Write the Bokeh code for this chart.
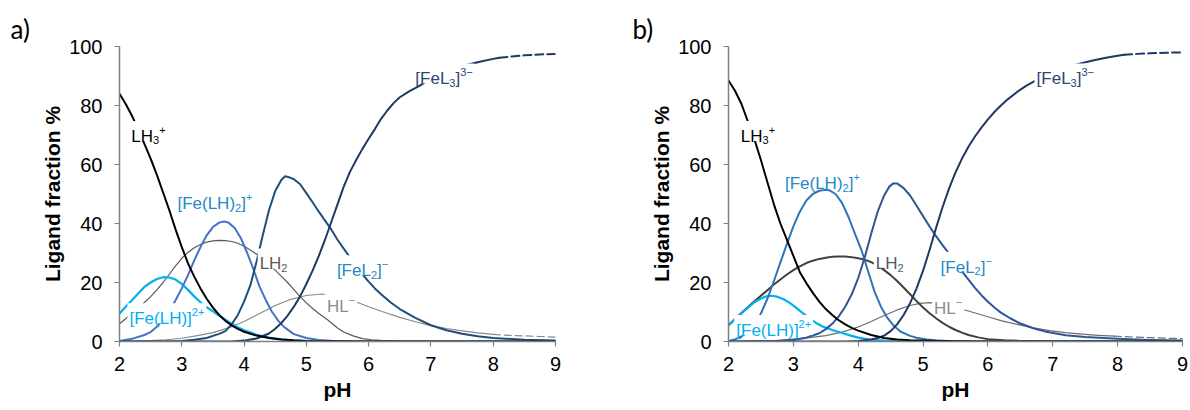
from bokeh.plotting import figure
from bokeh.layouts import row
from bokeh.models import Range1d, FixedTicker
from bokeh.core.properties import value
from bokeh.embed import file_html
from bokeh.resources import INLINE

# ---------------- panel a) data (pH, ligand fraction %) ----------------
a_ph_lh3 = [2.0, 2.1, 2.2, 2.3, 2.4, 2.5, 2.6, 2.7, 2.8, 2.9, 3.0, 3.1, 3.2, 3.3, 3.4, 3.5, 3.6, 3.7,
            3.8, 3.9, 4.0, 4.2, 4.4, 4.6, 4.8, 5.0, 5.5, 6.0, 9.0]
a_lh3 = [84, 80.5, 76.5, 72, 67, 62, 56.5, 50.5, 44.5, 38, 32, 26.5, 22, 18, 14.5, 11.5, 9, 7,
         5.5, 4.3, 3.3, 2.0, 1.2, 0.7, 0.4, 0.2, 0.05, 0, 0]

a_ph_felh = [2.0, 2.1, 2.2, 2.3, 2.4, 2.5, 2.6, 2.7, 2.8, 2.9, 3.0, 3.1, 3.2, 3.3, 3.4, 3.5, 3.6, 3.7,
             3.8, 3.9, 4.0, 4.2, 4.4, 4.6, 4.8, 5.0, 5.5, 9.0]
a_felh = [9.5, 11.8, 14, 16.3, 18.5, 20, 21.2, 21.8, 21.7, 21, 19.5, 17.5, 15.3, 13.3, 11.6, 10.2, 8.8, 7.4,
          6.0, 4.8, 3.8, 2.3, 1.3, 0.7, 0.3, 0.1, 0, 0]

a_ph_felh2 = [2.0, 2.2, 2.4, 2.5, 2.6, 2.7, 2.8, 2.9, 3.0, 3.1, 3.2, 3.3, 3.4, 3.5, 3.6, 3.68, 3.75, 3.85,
              3.95, 4.05, 4.15, 4.25, 4.35, 4.45, 4.55, 4.65, 4.8, 5.0, 5.2, 5.5, 6.0, 9.0]
a_felh2 = [0.2, 0.9, 2.2, 3.2, 5, 7.5, 10.5, 14, 18, 22.5, 27.5, 32, 36, 38.8, 40.3, 40.7, 40.3, 38.5,
           35, 30, 24.5, 18.5, 14, 10, 7, 4.8, 2.5, 1.2, 0.5, 0.1, 0, 0]

a_ph_lh2 = [2.0, 2.1, 2.2, 2.3, 2.4, 2.5, 2.6, 2.7, 2.8, 2.9, 3.0, 3.1, 3.2, 3.3, 3.4, 3.5, 3.6, 3.7,
            3.8, 3.9, 4.0, 4.1, 4.2, 4.3, 4.4, 4.5, 4.6, 4.7, 4.8, 4.9, 5.0, 5.1, 5.2, 5.35, 5.5, 5.6,
            5.75, 5.9, 6.05, 6.2, 6.6, 7.0, 9.0]
a_lh2 = [6, 7.7, 9.5, 11.3, 13.2, 15.2, 17.5, 20, 22.8, 25.6, 28.2, 30.2, 31.8, 32.9, 33.7, 34.1, 34.3, 34.2,
         33.9, 33.3, 32.3, 31, 29.6, 28, 26.2, 24.2, 22.1, 20, 17.6, 15.2, 13.1, 11.2, 9.5, 7.2, 4.6, 3.2,
         1.9, 1.0, 0.6, 0.4, 0.1, 0, 0]

a_ph_hl = [2.0, 2.5, 2.75, 3.0, 3.25, 3.5, 3.75, 4.0, 4.25, 4.5, 4.75, 5.0, 5.25, 5.5, 5.75, 6.0, 6.25,
           6.5, 6.75, 7.0, 7.25, 7.5, 7.75, 8.0]
a_hl = [0, 0.3, 0.6, 1.1, 2.0, 3.0, 4.6, 6.8, 9.5, 12.2, 14.3, 15.6, 16.1, 15.4, 13.8, 11.8, 9.9,
        8.2, 6.7, 5.4, 4.4, 3.6, 2.9, 2.4]
a_ph_hl_tail = [8.0, 8.25, 8.5, 8.75, 9.0]
a_hl_tail = [2.4, 2.1, 1.9, 1.7, 1.5]

a_ph_fel2 = [2.0, 2.8, 3.0, 3.2, 3.4, 3.5, 3.6, 3.7, 3.8, 3.9, 4.0, 4.1, 4.2, 4.3, 4.4, 4.5, 4.6, 4.66,
             4.72, 4.8, 4.9, 5.0, 5.1, 5.2, 5.3, 5.4, 5.5, 5.6, 5.7, 5.8, 5.9, 6.0, 6.1, 6.2, 6.35, 6.5,
             6.75, 7.0, 7.25, 7.5, 7.75, 8.0, 8.5, 9.0]
a_fel2 = [0, 0, 0.2, 0.6, 1.2, 1.9, 2.6, 3.5, 5.8, 9, 13.5, 19, 27, 36, 44.5, 51, 54.8, 56,
          55.7, 55, 53.3, 50.3, 47.2, 44, 41, 38, 34.5, 31.5, 28.5, 25.5, 22.8, 20.3, 18, 16, 13.3, 11,
          8, 5.5, 3.8, 2.6, 1.8, 1.2, 0.6, 0.3]

a_ph_fel3 = [2.0, 3.8, 4.0, 4.2, 4.4, 4.5, 4.6, 4.7, 4.8, 4.9, 5.0, 5.1, 5.2, 5.3, 5.4, 5.5, 5.6, 5.7,
             5.8, 5.9, 6.0, 6.1, 6.2, 6.3, 6.4, 6.5, 6.65, 6.8, 7.0, 7.2, 7.4, 7.6, 7.82, 8.0, 8.1]
a_fel3 = [0, 0, 0.3, 1, 2.7, 4.3, 6.3, 8.8, 11.8, 15.3, 19.5, 24, 29, 34.5, 40.5, 46.5, 52.5, 57.5,
          61.5, 65.3, 68.7, 72, 75.5, 78.3, 80.8, 82.8, 84.8, 86.5, 89, 91, 92.6, 93.9, 95, 95.8, 96.2]
a_ph_fel3_tail = [8.1, 8.3, 8.5, 8.75, 9.0]
a_fel3_tail = [96.2, 96.6, 97.0, 97.3, 97.5]

# ---------------- panel b) data ----------------
b_ph_lh3 = [2.0, 2.1, 2.2, 2.3, 2.4, 2.5, 2.6, 2.7, 2.8, 2.9, 3.0, 3.1, 3.2, 3.3, 3.4, 3.5, 3.6, 3.7,
            3.8, 3.9, 4.0, 4.2, 4.4, 4.6, 4.8, 5.0, 5.5, 6.0, 9.0]
b_lh3 = [88.5, 85, 80.5, 74.5, 68.5, 61.5, 54, 46.5, 40, 34.5, 29, 23.5, 19.8, 16.5, 13.5, 11, 9, 7.2,
         5.8, 4.6, 3.7, 2.2, 1.2, 0.7, 0.45, 0.3, 0.05, 0, 0]

b_ph_felh = [2.0, 2.1, 2.2, 2.3, 2.4, 2.5, 2.6, 2.66, 2.75, 2.85, 2.95, 3.05, 3.15, 3.25, 3.35, 3.45,
             3.6, 3.75, 3.9, 4.0, 4.2, 4.4, 4.7, 5.0, 9.0]
b_felh = [5.4, 7.5, 9.5, 11.5, 13.3, 14.6, 15.4, 15.5, 15.2, 14.3, 13, 11.3, 9.5, 7.8, 6.3, 5.1,
          3.9, 2.9, 1.9, 1.3, 0.6, 0.3, 0.1, 0, 0]

b_ph_felh2 = [2.0, 2.1, 2.2, 2.3, 2.4, 2.5, 2.6, 2.7, 2.8, 2.9, 3.0, 3.1, 3.2, 3.3, 3.4, 3.5, 3.55, 3.65,
              3.75, 3.85, 3.95, 4.05, 4.15, 4.25, 4.35, 4.45, 4.55, 4.65, 4.8, 4.9, 5.05, 5.2, 5.6, 9.0]
b_felh2 = [0.2, 0.7, 1.7, 3.3, 5.8, 9.5, 14.5, 20.5, 26.8, 33, 39, 44, 47.8, 50, 51.1, 51.4, 51.3, 50,
           47, 42.2, 36.5, 31, 24, 17, 11.8, 8, 5.3, 3.4, 1.9, 1.3, 0.7, 0.3, 0, 0]

b_ph_lh2 = [2.0, 2.1, 2.2, 2.3, 2.4, 2.5, 2.6, 2.7, 2.8, 2.9, 3.0, 3.1, 3.2, 3.3, 3.4, 3.5, 3.6, 3.7,
            3.8, 3.9, 4.0, 4.1, 4.2, 4.3, 4.4, 4.5, 4.6, 4.7, 4.8, 4.9, 5.0, 5.1, 5.2, 5.3, 5.4, 5.5,
            5.6, 5.7, 5.85, 6.0, 6.25, 6.5, 7.0, 9.0]
b_lh2 = [5.5, 7.6, 9.7, 11.7, 13.6, 15.5, 17.4, 19.3, 21, 22.7, 24.2, 25.5, 26.6, 27.4, 28, 28.4, 28.7, 28.8,
         28.8, 28.6, 28.2, 27.7, 26.9, 25.7, 24.2, 22.5, 20.5, 18.3, 16, 13.7, 11.5, 9.6, 7.9, 6.3, 5, 3.9,
         3.0, 2.2, 1.4, 0.8, 0.4, 0.2, 0, 0]

b_ph_hl = [2.0, 2.5, 2.75, 3.0, 3.25, 3.5, 3.75, 4.0, 4.2, 4.4, 4.6, 4.8, 4.95, 5.1, 5.3, 5.5, 5.75,
           6.0, 6.2, 6.45, 6.7, 6.95, 7.2, 7.45, 7.7, 7.95]
b_hl = [0, 0.2, 0.4, 0.8, 1.3, 2.0, 3.2, 4.9, 6.8, 8.8, 10.7, 12.2, 12.9, 13.2, 12.8, 11.6, 10,
        8.4, 7.1, 5.8, 4.6, 3.7, 3.0, 2.5, 2.1, 1.8]
b_ph_hl_tail = [7.95, 8.25, 8.5, 8.75, 9.0]
b_hl_tail = [1.8, 1.5, 1.3, 1.1, 1.0]

b_ph_fel2 = [2.0, 2.8, 3.0, 3.2, 3.4, 3.5, 3.6, 3.7, 3.8, 3.9, 4.0, 4.1, 4.2, 4.3, 4.4, 4.48, 4.54, 4.6,
             4.7, 4.8, 4.9, 5.0, 5.1, 5.2, 5.3, 5.4, 5.5, 5.6, 5.7, 5.8, 5.9, 6.0, 6.1, 6.2, 6.35, 6.5,
             6.7, 6.9, 7.2, 7.5, 8.0, 8.5, 9.0]
b_fel2 = [0, 0.2, 0.5, 1.3, 2.8, 4.2, 6, 8.5, 11.8, 16, 21.5, 28.5, 36.5, 44, 49.5, 52.5, 53.6, 53.6,
          52, 49.5, 46, 42.5, 39, 35.7, 32.7, 29.8, 26.8, 23.8, 21, 18.2, 15.7, 13.5, 11.5, 9.8, 7.8, 6.1,
          4.5, 3.3, 2.1, 1.5, 0.9, 0.5, 0.3]

b_ph_fel3 = [2.0, 3.8, 4.0, 4.2, 4.3, 4.4, 4.5, 4.6, 4.7, 4.8, 4.9, 5.0, 5.1, 5.2, 5.3, 5.4, 5.5, 5.6,
             5.7, 5.8, 5.9, 6.0, 6.1, 6.2, 6.3, 6.45, 6.6, 6.8, 7.0, 7.2, 7.4, 7.6, 7.82, 8.0, 8.1]
b_fel3 = [0, 0, 0.2, 0.7, 1.2, 2.0, 3.5, 5.8, 9, 13, 18, 24, 31, 38.5, 45.5, 51.8, 57.3, 62,
          66, 69.5, 72.5, 75.3, 77.8, 80, 82, 84.6, 86.8, 89.2, 91.2, 92.8, 94.1, 95.2, 96.2, 96.9, 97.2]
b_ph_fel3_tail = [8.1, 8.3, 8.5, 8.75, 9.0]
b_fel3_tail = [97.2, 97.5, 97.7, 97.9, 98.0]

x_ticks = [2, 3, 4, 5, 6, 7, 8, 9]
y_ticks = [0, 20, 40, 60, 80, 100]

# species label texts (parts: normal / sub / sup)
T_LH3 = [("LH", "n"), ("3", "sub"), ("+", "sup")]
T_FELH2 = [("[Fe(LH)", "n"), ("2", "sub"), ("]", "n"), ("+", "sup")]
T_FELH = [("[Fe(LH)]", "n"), ("2+", "sup")]
T_LH2 = [("LH", "n"), ("2", "sub")]
T_HL = [("HL", "n"), ("\u2212", "sup")]
T_FEL2 = [("[FeL", "n"), ("2", "sub"), ("]", "n"), ("\u2212", "sup")]
T_FEL3 = [("[FeL", "n"), ("3", "sub"), ("]", "n"), ("3\u2212", "sup")]

FONT = "Liberation Sans"
ARIAL_W = {"[": 278, "]": 278, "F": 611, "e": 556, "(": 333, ")": 333, "L": 556,
           "H": 722, "+": 584, "\u2212": 584}


def tw(s, size):
    return sum(ARIAL_W.get(c, 556) for c in s) * size / 1000.0


def make_fig(width, left, right, tag, tag_px):
    p = figure(width=width, height=410, output_backend="svg", toolbar_location=None,
               x_range=Range1d(2, 9), y_range=Range1d(0, 100),
               min_border_left=left, min_border_right=right,
               min_border_top=46, min_border_bottom=69)
    p.outline_line_color = None
    p.grid.visible = False
    p.xaxis.ticker = FixedTicker(ticks=x_ticks)
    p.yaxis.ticker = FixedTicker(ticks=y_ticks)
    for ax in (p.xaxis[0], p.yaxis[0]):
        ax.axis_line_color = "#808080"
        ax.axis_line_width = 1.5
        ax.major_tick_line_color = "#808080"
        ax.major_tick_line_width = 1.2
        ax.major_tick_out = 5
        ax.major_tick_in = 0
        ax.minor_tick_line_color = None
        ax.major_label_text_font = FONT
        ax.major_label_text_font_size = "20px"
        ax.major_label_text_color = "black"
        ax.axis_label_text_font = FONT
        ax.axis_label_text_font_style = "bold"
        ax.axis_label_text_font_size = "21px"
        ax.axis_label_text_color = "black"
    p.xaxis.major_label_standoff = 10
    p.yaxis.major_label_standoff = 12
    p.xaxis.axis_label = "pH"
    p.xaxis.axis_label_standoff = 4
    p.yaxis.axis_label = "Ligand fraction %"
    p.yaxis.axis_label_standoff = 2
    # panel tag "a)" / "b)" as a left-aligned title shifted into the left margin
    p.title.text = tag
    p.title.text_font = "Lato"
    p.title.text_font_size = "26px"
    p.title.text_font_style = "normal"
    p.title.text_color = "black"
    p.title.align = "left"
    p.title.offset = tag_px - left
    p.title.standoff = 3
    fw = width - left - right
    sx = fw / 7.0
    sy = 295 / 100.0
    return p, sx, sy


def curve(p, xs, ys, color, w, dash="solid"):
    p.line(xs, ys, line_color=color, line_width=w, line_dash=dash, line_join="round", line_cap="round")


def species_label(p, sx, sy, x0, y0, parts, color):
    total = 0
    for s, k in parts:
        total += tw(s, 17 if k == "n" else 11)
    # white mask (gap in lines around the label)
    p.rect(x=[x0 + (total / 2.0) / sx], y=[y0 + 5.5 / sy], width=[total + 4], height=[20],
           width_units="screen", height_units="screen", fill_color="white", line_color=None)
    cur = 0
    for s, k in parts:
        if k == "n":
            fs, dy = 17, 0
        elif k == "sub":
            fs, dy = 11, -4
        else:
            fs, dy = 11, 6.5
        p.text(x=[x0 + cur / sx], y=[y0 + dy / sy], text=[s], text_font=value(FONT),
               text_font_size=f"{fs}px", text_color=color, text_baseline="alphabetic",
               text_align="left")
        cur += tw(s, fs)


TEAL = "#2589C4"
NAVY_T = "#2B4472"

# ---------------- panel a ----------------
pa, sxa, sya = make_fig(595, 119, 40, "a)", 10)
curve(pa, a_ph_hl, a_hl, "#8A8A8A", 1.2)
curve(pa, a_ph_hl_tail, a_hl_tail, "#8A8A8A", 1.2, "7 4")
curve(pa, a_ph_lh2, a_lh2, "#595959", 1.2)
curve(pa, a_ph_felh, a_felh, "#00B0F0", 2.2)
curve(pa, a_ph_felh2, a_felh2, "#4472C4", 2)
curve(pa, a_ph_fel2, a_fel2, "#1F4E79", 2)
curve(pa, a_ph_fel3, a_fel3, "#203864", 2)
curve(pa, a_ph_fel3_tail, a_fel3_tail, "#203864", 2, "8 4")
curve(pa, a_ph_lh3, a_lh3, "#000000", 2)

species_label(pa, sxa, sya, 2.19, 69.5, T_LH3, "black")
species_label(pa, sxa, sya, 2.93, 46.7, T_FELH2, TEAL)
species_label(pa, sxa, sya, 2.16, 7.7, T_FELH, "#00B0F0")
species_label(pa, sxa, sya, 4.25, 26.3, T_LH2, "#595959")
species_label(pa, sxa, sya, 5.33, 12.0, T_HL, "#8C8C8C")
species_label(pa, sxa, sya, 5.49, 24.0, T_FEL2, TEAL)
species_label(pa, sxa, sya, 6.75, 89.0, T_FEL3, NAVY_T)

# ---------------- panel b ----------------
pb, sxb, syb = make_fig(595, 133, 8, "b)", 37)
curve(pb, b_ph_hl, b_hl, "#6E6E6E", 1.2)
curve(pb, b_ph_hl_tail, b_hl_tail, "#6E6E6E", 1.2, "7 4")
curve(pb, b_ph_lh2, b_lh2, "#404040", 2)
curve(pb, b_ph_felh, b_felh, "#00B0F0", 2.2)
curve(pb, b_ph_felh2, b_felh2, "#2E75B6", 2)
curve(pb, b_ph_fel2, b_fel2, "#2F5597", 2)
curve(pb, b_ph_fel3, b_fel3, "#203864", 2)
curve(pb, b_ph_fel3_tail, b_fel3_tail, "#203864", 2, "8 4")
curve(pb, b_ph_lh3, b_lh3, "#000000", 2)

species_label(pb, sxb, syb, 2.19, 69.5, T_LH3, "black")
species_label(pb, sxb, syb, 2.87, 53.4, T_FELH2, TEAL)
species_label(pb, sxb, syb, 2.12, 3.7, T_FELH, "#00B0F0")
species_label(pb, sxb, syb, 4.27, 26.3, T_LH2, "#595959")
species_label(pb, sxb, syb, 5.17, 11.1, T_HL, "#8C8C8C")
species_label(pb, sxb, syb, 5.27, 25.2, T_FEL2, TEAL)
species_label(pb, sxb, syb, 6.75, 89.0, T_FEL3, NAVY_T)

layout = row(pa, pb)
open("out.html", "w").write(file_html(layout, INLINE))
